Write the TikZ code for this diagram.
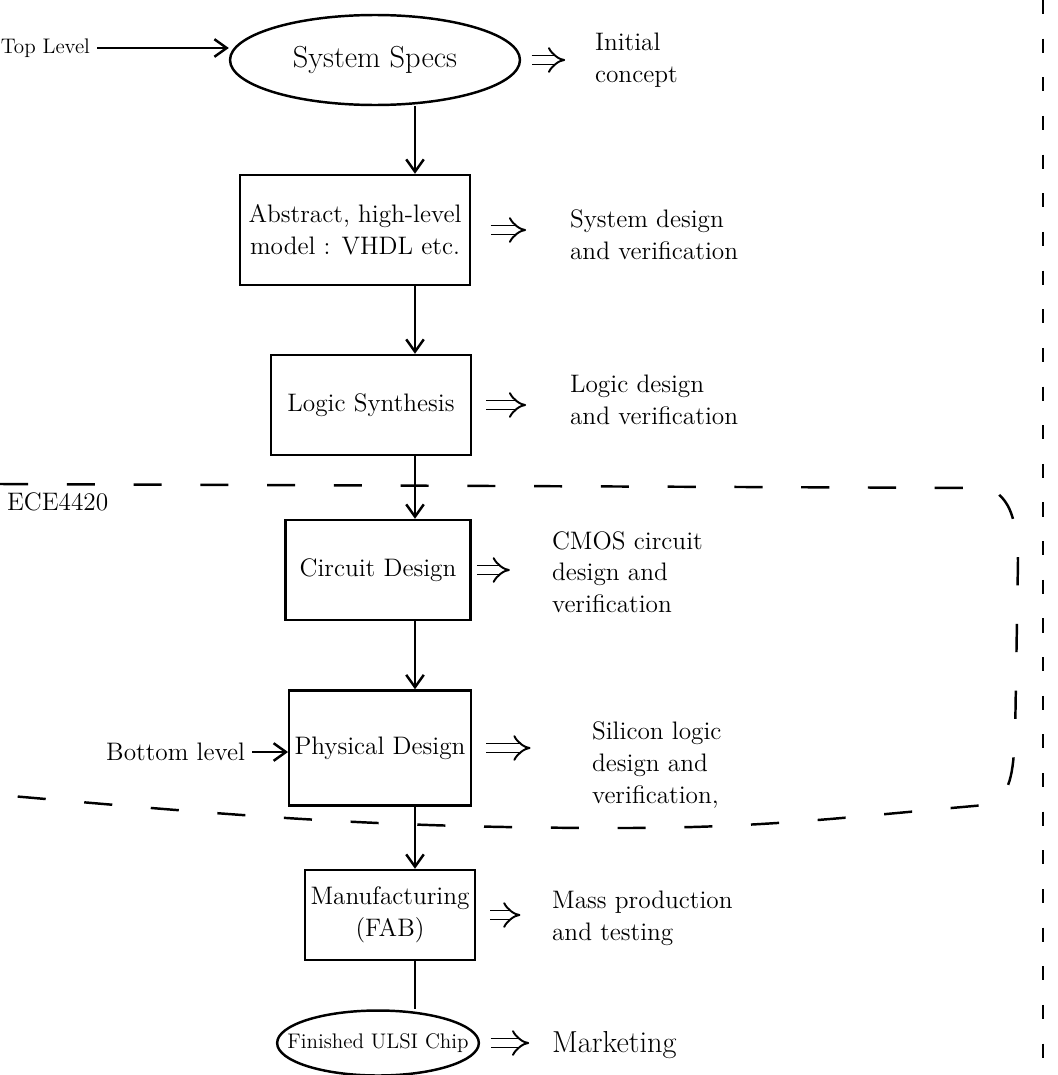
\documentclass[tikz,border=0pt]{standalone}
\usepackage{tikz}
\usetikzlibrary{shapes.geometric,arrows.meta}

\begin{document}
\begin{tikzpicture}[x=0.02cm, y=-0.02cm, line width=1.4pt,
    >={Straight Barb[length=7pt,width=10pt]},
    stage/.style={draw, rectangle, align=center, font=\Large, inner sep=3pt},
    oval/.style={draw, ellipse, align=center, font=\Large},
    note/.style={anchor=west, align=left, font=\Large},
    implies/.style={double, double distance=4pt, line width=1.1pt, -{Implies}},
    cut/.style={dash pattern=on 16pt off 22pt, line width=1.4pt}]

   \useasboundingbox (0,0) rectangle (1058,1075);
   \coordinate (spine) at (415,0);

   \node [oval, font=\LARGE, minimum width=5.8cm, minimum height=1.8cm]
      (specs) at (375,60) {System Specs};
   \node [stage, minimum width=4.6cm, minimum height=2.2cm]
      (model) at (355,230) {Abstract, high-level\\model : VHDL etc.};
   \node [stage, minimum width=4cm, minimum height=2cm]
      (synth) at (371,405) {Logic Synthesis};
   \node [stage, minimum width=3.7cm, minimum height=2cm]
      (circuit) at (378,570) {Circuit Design};
   \node [stage, minimum width=3.6cm, minimum height=2.3cm]
      (physical) at (380,748) {Physical Design};
   \node [stage, minimum width=3.2cm, minimum height=1.8cm]
      (fab) at (390,915) {Manufacturing\\(FAB)};
   \node [oval, font=\large, inner xsep=-11pt, minimum height=1.3cm]
      (chip) at (378,1043) {Finished ULSI Chip};

   \foreach \n/\x/\y/\t in {initial/588/60/{Initial\\concept},
        sysdes/563/235/{System design\\and verification},
        logdes/563/400/{Logic design\\and verification},
        cmos/545/572/{CMOS circuit\\design and\\verification},
        silicon/585/765/{Silicon logic\\design and\\verification,},
        mass/545/918/{Mass production\\and testing}}
     \node [note] (\n) at (\x,\y) {\t};
   \node [note, font=\LARGE] (market) at (545,1045) {Marketing};

   \node [font=\large, anchor=east] (top) at (97,48) {Top Level};
   \node [font=\Large, anchor=east] (bottom) at (252,752) {Bottom level};
   \node [font=\Large, anchor=west] (course) at (0,502) {ECE4420};

   \foreach \a/\b in {specs/model, model/synth, synth/circuit, circuit/physical, physical/fab}
     \draw [->] (\a.south -| spine) -- (\b.north -| spine);
   \draw (fab.south -| spine) -- (chip.north -| spine);

   \foreach \a/\b/\s/\e in {specs/initial/6/13, model/sysdes/11/21, synth/logdes/8/21,
                            circuit/cmos/3/20, physical/silicon/8/31, fab/mass/8/14,
                            chip/market/6/9}
     \draw [implies, shorten <=\s pt, shorten >=\e pt] (\a.east) -- (\a.east -| \b.west);

   \draw [->] (top.east) -- (top.east -| specs.west);
   \draw [->] (bottom.east) -- (bottom.east -| physical.west);

   \draw [cut] (0,484) -- (990,488) to[out=-30,in=95] (1018,560) -- (1015,740)
      to[out=-95,in=10] (985,805) to[out=185,in=0] (620,828) to[out=180,in=-5] (0,795);
   \draw [dash pattern=on 8pt off 14pt, line width=1pt] (1043,0) -- (1043,1075);

\end{tikzpicture}
\end{document}
